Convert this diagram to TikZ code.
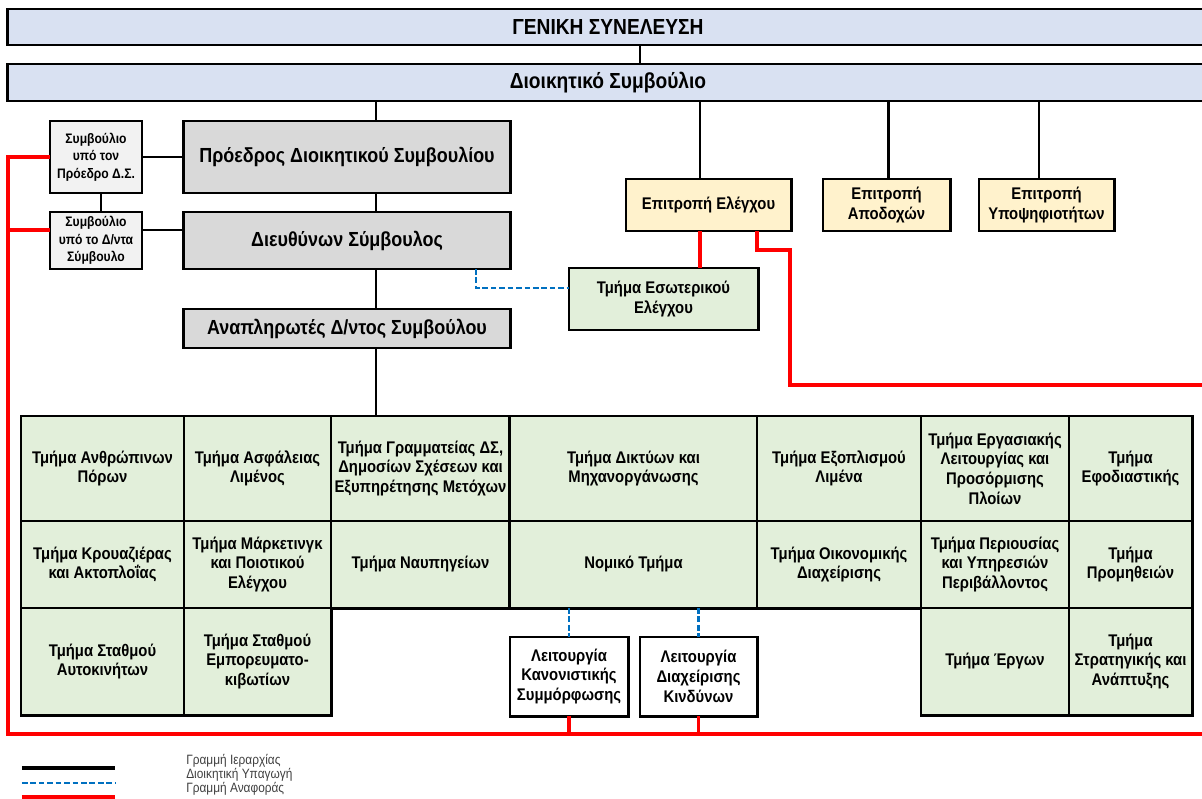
\documentclass[tikz,border=0pt]{standalone}
\usepackage{fontspec}
\setmainfont{Liberation Sans}[FakeStretch=0.88]
\usetikzlibrary{positioning, calc}

\definecolor{barblue}{HTML}{D9E1F2}
\definecolor{boxgray}{HTML}{D9D9D9}
\definecolor{sidegray}{HTML}{F2F2F2}
\definecolor{cmtyellow}{HTML}{FFF2CC}
\definecolor{deptgreen}{HTML}{E2EFDA}
\definecolor{admblue}{HTML}{0070C0}
\definecolor{legendgray}{HTML}{404040}

\begin{document}
\begin{tikzpicture}[x=0.025cm, y=-0.025cm,
  box/.style={draw, line width=2.1pt, inner sep=1pt, outer sep=0pt, align=center, font=\fontsize{12}{14}\selectfont\bfseries},
  bar/.style={box, fill=barblue, minimum width=30cm, font=\fontsize{15.5}{18}\selectfont\bfseries},
  head/.style={box, fill=boxgray, minimum width=8.15cm, font=\fontsize{14.5}{17}\selectfont\bfseries},
  side/.style={box, fill=sidegray, minimum width=2.3cm, font=\fontsize{9.8}{12.4}\selectfont\bfseries},
  cmt/.style={box, fill=cmtyellow, minimum height=1.3cm},
  dept/.style={box, fill=deptgreen},
  rowa/.style={dept, minimum height=2.625cm},
  rowb/.style={dept, minimum height=2.175cm},
  rowc/.style={dept, minimum height=2.675cm},
  func/.style={box, fill=white, minimum height=1.975cm},
  hier/.style={line width=2pt},
  adm/.style={admblue, line width=2pt, dash pattern=on 4pt off 2pt},
  rpt/.style={red, line width=2.4pt},
  legend/.style={anchor=west, inner sep=0pt, text=legendgray, font=\fontsize{9.6}{10}\selectfont}
]
\useasboundingbox (0,0) rectangle (1202,798);

% board level
\node[bar, minimum height=0.9cm] (gen) at (608,27) {ΓΕΝΙΚΗ ΣΥΝΕΛΕΥΣΗ};
\node[bar, minimum height=0.925cm] (board) at (608,82.5) {Διοικητικό Συμβούλιο};

% executive line
\node[head, minimum height=1.8cm] (pres) at (347,157) {Πρόεδρος Διοικητικού Συμβουλίου};
\node[head, minimum height=1.425cm] (ceo) at (347,240.5) {Διευθύνων Σύμβουλος};
\node[head, minimum height=0.975cm] (dep) at (347,328.5) {Αναπληρωτές Δ/ντος Συμβούλου};
\node[side, minimum height=1.8cm] (sbpres) at (96,157) {Συμβούλιο\\υπό τον\\Πρόεδρο Δ.Σ.};
\node[side, minimum height=1.425cm] (sbceo) at (96,240.5) {Συμβούλιο\\υπό το Δ/ντα\\Σύμβουλο};

% committees
\node[cmt, minimum width=4.125cm] (audit) at (708.5,205) {Επιτροπή Ελέγχου};
\node[cmt, minimum width=3.175cm] (remun) at (886.5,205) {Επιτροπή\\Αποδοχών};
\node[cmt, minimum width=3.375cm] (nomin) at (1046.5,205) {Επιτροπή\\Υποψηφιοτήτων};
\node[dept, minimum width=4.725cm, minimum height=1.55cm] (intaud) at (663.5,299) {Τμήμα Εσωτερικού\\Ελέγχου};

% departments
\node[rowa, minimum width=4.075cm] (hr)    at (102.5,468.5) {Τμήμα Ανθρώπινων\\Πόρων};
\node[rowa, minimum width=3.675cm] (sec)   at (257.5,468.5) {Τμήμα Ασφάλειας\\Λιμένος};
\node[rowa, minimum width=4.475cm] (secr)  at (420.5,468.5) {Τμήμα Γραμματείας ΔΣ,\\Δημοσίων Σχέσεων και\\Εξυπηρέτησης Μετόχων};
\node[rowa, minimum width=6.175cm] (net)   at (633.5,468.5) {Τμήμα Δικτύων και\\Μηχανοργάνωσης};
\node[rowa, minimum width=4.1cm]   (equip) at (839,468.5) {Τμήμα Εξοπλισμού\\Λιμένα};
\node[rowa, minimum width=3.7cm]   (oper)  at (995,468.5) {Τμήμα Εργασιακής\\Λειτουργίας και\\Προσόρμισης\\Πλοίων};
\node[rowa, minimum width=3.075cm] (logi)  at (1130.5,468.5) {Τμήμα\\Εφοδιαστικής};

\node[rowb, minimum width=4.075cm] (cruise) at (102.5,564.5) {Τμήμα Κρουαζιέρας\\και Ακτοπλοΐας};
\node[rowb, minimum width=3.675cm] (mkt)    at (257.5,564.5) {Τμήμα Μάρκετινγκ\\και Ποιοτικού\\Ελέγχου};
\node[rowb, minimum width=4.475cm] (yard)   at (420.5,564.5) {Τμήμα Ναυπηγείων};
\node[rowb, minimum width=6.175cm] (law)    at (633.5,564.5) {Νομικό Τμήμα};
\node[rowb, minimum width=4.1cm]   (fin)    at (839,564.5) {Τμήμα Οικονομικής\\Διαχείρισης};
\node[rowb, minimum width=3.7cm]   (prop)   at (995,564.5) {Τμήμα Περιουσίας\\και Υπηρεσιών\\Περιβάλλοντος};
\node[rowb, minimum width=3.075cm] (proc)   at (1130.5,564.5) {Τμήμα\\Προμηθειών};

\node[rowc, minimum width=4.075cm] (park)  at (102.5,661.5) {Τμήμα Σταθμού\\Αυτοκινήτων};
\node[rowc, minimum width=3.675cm] (cont)  at (257.5,661.5) {Τμήμα Σταθμού\\Εμπορευματο-\\κιβωτίων};
\node[rowc, minimum width=3.7cm]   (works) at (995,661.5) {Τμήμα Έργων};
\node[rowc, minimum width=3.075cm] (strat) at (1130.5,661.5) {Τμήμα\\Στρατηγικής και\\Ανάπτυξης};

\node[func, minimum width=2.95cm]  (comp) at (569,676.5) {Λειτουργία\\Κανονιστικής\\Συμμόρφωσης};
\node[func, minimum width=2.925cm] (risk) at (698.5,676.5) {Λειτουργία\\Διαχείρισης\\Κινδύνων};

% helper points
\coordinate (genlink) at (640,0);
\coordinate (trunk) at (376,0);
\coordinate (redL) at (8,0);
\coordinate (redB) at (0,734);
\coordinate (redE) at (1202,0);
\coordinate (rptK) at (790,250);
\coordinate (rptR) at (1202,385);

% hierarchy
\draw[hier] (gen.south -| genlink) -- (board.north -| genlink);
\draw[hier] (board.south -| trunk) -- (pres.north -| trunk);
\draw[hier] (pres.south -| trunk) -- (ceo.north -| trunk);
\draw[hier] (ceo.south -| trunk) -- (dep.north -| trunk);
\draw[hier] (dep.south -| trunk) -- (secr.north -| trunk);
\draw[hier] ([xshift=-0.2125cm]audit.north) -- ([xshift=-0.2125cm]audit.north |- board.south);
\draw[hier] ([xshift=0.04cm]remun.north) -- ([xshift=0.04cm]remun.north |- board.south);
\draw[hier] ([xshift=-0.19cm]nomin.north) -- ([xshift=-0.19cm]nomin.north |- board.south);
\draw[hier] (sbpres) -- (pres);
\draw[hier] ([yshift=0.2625cm]sbceo.east) -- ([yshift=0.2625cm]sbceo.east -| ceo.west);
\draw[hier] ([xshift=0.125cm]sbpres.south) -- ([xshift=0.125cm]sbpres.south |- sbceo.north);

% administrative
\draw[adm] ([xshift=3.225cm]ceo.south) |- ([yshift=0.275cm]intaud.west);
\draw[adm] (law.south -| comp.north) -- (comp.north);
\draw[adm] (law.south -| risk.north) -- (risk.north);

% reporting
\draw[rpt] (sbpres.west) -| (redL |- redB) -- (redE |- redB);
\draw[rpt] ([yshift=0.2625cm]sbceo.west) -- ([yshift=0.2625cm]sbceo.west -| redL);
\draw[rpt] (comp.south) -- (comp.south |- redB);
\draw[rpt] (risk.south) -- (risk.south |- redB);
\draw[rpt] ([xshift=-0.2125cm]audit.south) -- ([xshift=-0.2125cm]audit.south |- intaud.north);
\draw[rpt] ([xshift=1.2125cm]audit.south) |- (rptK) |- (rptR);

% legend
\node[legend] (lg1) at (186,761) {Γραμμή Ιεραρχίας};
\node[legend] (lg2) at (186,775) {Διοικητική Υπαγωγή};
\node[legend] (lg3) at (186,789) {Γραμμή Αναφοράς};
\draw[hier, line width=2.4pt] ([yshift=-0.175cm, xshift=-4.1cm]lg1.west) -- ([yshift=-0.175cm, xshift=-1.775cm]lg1.west);
\draw[adm] ([yshift=-0.2cm, xshift=-4.1cm]lg2.west) -- ([yshift=-0.2cm, xshift=-1.775cm]lg2.west);
\draw[rpt] ([yshift=-0.2cm, xshift=-4.1cm]lg3.west) -- ([yshift=-0.2cm, xshift=-1.775cm]lg3.west);
\end{tikzpicture}
\end{document}
